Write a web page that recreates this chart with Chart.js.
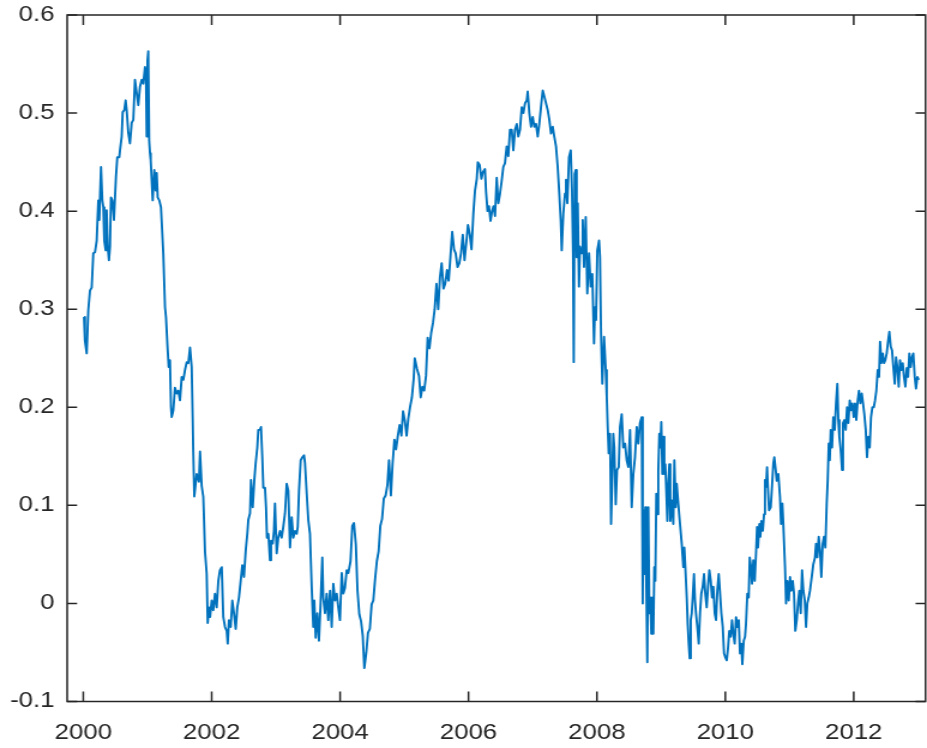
<!DOCTYPE html>
<html>
<head>
<meta charset="utf-8">
<script src="https://cdn.jsdelivr.net/npm/chart.js@4.4.1/dist/chart.umd.min.js"></script>
<style>
  html, body { margin: 0; padding: 0; background: #fff; overflow: hidden; }
  /* the figure is drawn narrow and stretched sideways to its final width */
  #wrap { width: 773px; height: 748px; transform: scaleX(1.19922); transform-origin: 0 0; }
</style>
</head>
<body>
<div id="wrap"><canvas id="c" width="773" height="748"></canvas></div>
<script>
// Observation dates (decimal years)
const dates = [
  2000.011,2000.026,2000.053,2000.078,2000.104,2000.131,2000.156,2000.182,2000.209,2000.234,2000.249,2000.276,2000.296,2000.312,2000.327,2000.349,2000.364,2000.380,2000.400,2000.416,2000.431,2000.452,2000.478,2000.509,2000.530,2000.561,2000.572,2000.598,2000.614,2000.639,2000.660,2000.676,2000.701,2000.727,2000.754,2000.779,2000.805,2000.832,2000.857,2000.883,2000.910,2000.935,2000.961,2000.977,2000.988,
  2001.000,2001.012,2001.026,2001.039,2001.050,2001.065,2001.081,2001.106,2001.128,2001.143,2001.159,2001.184,2001.210,2001.246,2001.273,2001.288,2001.315,2001.330,2001.350,2001.366,2001.377,2001.402,2001.428,2001.455,2001.480,2001.506,2001.533,2001.558,2001.584,2001.611,2001.636,2001.662,2001.688,2001.704,2001.713,2001.729,2001.766,2001.802,2001.818,2001.844,2001.869,2001.896,2001.922,2001.938,2001.958,2001.974,
  2002.000,2002.025,2002.051,2002.078,2002.103,2002.129,2002.156,2002.181,2002.207,2002.234,2002.249,2002.269,2002.296,2002.321,2002.347,2002.374,2002.399,2002.425,2002.452,2002.477,2002.503,2002.530,2002.555,2002.570,2002.597,2002.612,2002.639,2002.664,2002.685,2002.710,2002.726,2002.752,2002.768,2002.788,2002.804,2002.830,2002.846,2002.861,2002.882,2002.908,2002.924,2002.950,2002.970,2002.986,
  2003.012,2003.037,2003.064,2003.090,2003.115,2003.142,2003.168,2003.193,2003.220,2003.246,2003.271,2003.298,2003.324,2003.340,2003.360,2003.386,2003.411,2003.438,2003.453,2003.480,2003.505,2003.531,2003.558,2003.583,2003.598,2003.620,2003.645,2003.671,2003.698,2003.723,2003.738,2003.765,2003.791,2003.816,2003.843,2003.869,2003.894,2003.921,2003.947,2003.972,2003.998,
  2004.025,2004.050,2004.076,2004.103,2004.128,2004.162,2004.190,2004.216,2004.245,2004.271,2004.299,2004.326,2004.353,2004.377,2004.408,2004.434,2004.463,2004.491,2004.517,2004.544,2004.572,2004.600,2004.626,2004.653,2004.681,2004.709,2004.737,2004.762,2004.791,2004.818,2004.846,2004.871,2004.900,2004.927,2004.955,2004.980,
  2005.009,2005.036,2005.063,2005.089,2005.118,2005.146,2005.162,2005.198,2005.229,2005.255,2005.282,2005.310,2005.338,2005.364,2005.391,2005.419,2005.447,2005.473,2005.501,2005.528,2005.556,2005.582,2005.610,2005.637,2005.665,2005.691,2005.719,2005.746,2005.774,2005.800,2005.829,2005.857,2005.883,2005.911,2005.938,2005.966,2005.992,
  2006.020,2006.047,2006.075,2006.101,2006.129,2006.145,2006.173,2006.201,2006.226,2006.256,2006.273,2006.296,2006.319,2006.343,2006.366,2006.389,2006.413,2006.439,2006.464,2006.491,2006.517,2006.542,2006.568,2006.595,2006.620,2006.646,2006.673,2006.698,2006.724,2006.751,2006.776,2006.802,2006.829,2006.854,2006.880,2006.907,2006.922,2006.947,2006.974,
  2007.000,2007.025,2007.051,2007.078,2007.103,2007.129,2007.156,2007.181,2007.207,2007.234,2007.259,2007.285,2007.312,2007.336,2007.363,2007.389,2007.414,2007.436,2007.452,2007.477,2007.503,2007.519,2007.539,2007.565,2007.592,2007.612,2007.628,2007.639,2007.654,2007.670,2007.685,2007.701,2007.721,2007.737,2007.763,2007.779,2007.799,2007.826,2007.850,2007.877,2007.903,2007.928,2007.955,2007.970,2007.986,
  2008.006,2008.033,2008.048,2008.064,2008.084,2008.111,2008.137,2008.153,2008.168,2008.184,2008.204,2008.220,2008.240,2008.255,2008.271,2008.293,2008.313,2008.340,2008.360,2008.386,2008.411,2008.438,2008.464,2008.489,2008.516,2008.542,2008.567,2008.593,2008.620,2008.645,2008.671,2008.698,2008.713,2008.723,2008.738,2008.754,2008.769,2008.785,2008.801,2008.816,2008.832,2008.847,2008.863,2008.879,2008.894,2008.910,2008.925,2008.941,2008.956,2008.972,2008.988,
  2009.003,2009.019,2009.034,2009.050,2009.065,2009.081,2009.097,2009.112,2009.128,2009.143,2009.165,2009.190,2009.206,2009.227,2009.243,2009.268,2009.294,2009.321,2009.346,2009.361,2009.377,2009.399,2009.414,2009.430,2009.445,2009.461,2009.477,2009.492,2009.512,2009.528,2009.543,2009.564,2009.586,2009.606,2009.626,2009.648,2009.668,2009.688,2009.710,2009.730,2009.751,2009.773,2009.793,2009.813,2009.835,2009.855,2009.875,2009.897,2009.918,2009.938,2009.960,2009.980,
  2010.000,2010.022,2010.042,2010.062,2010.084,2010.104,2010.125,2010.146,2010.167,2010.187,2010.209,2010.229,2010.249,2010.265,2010.287,2010.307,2010.322,2010.343,2010.364,2010.380,2010.400,2010.416,2010.436,2010.458,2010.478,2010.494,2010.509,2010.530,2010.545,2010.561,2010.583,2010.603,2010.618,2010.634,2010.650,2010.665,2010.681,2010.707,2010.727,2010.748,2010.763,2010.785,2010.801,2010.826,2010.852,2010.868,2010.888,2010.903,2010.930,2010.946,2010.966,2010.988,
  2011.008,2011.028,2011.050,2011.070,2011.090,2011.112,2011.132,2011.153,2011.174,2011.195,2011.215,2011.237,2011.257,2011.277,2011.299,2011.319,2011.346,2011.371,2011.397,2011.413,2011.433,2011.455,2011.475,2011.495,2011.517,2011.537,2011.558,2011.579,2011.595,2011.611,2011.626,2011.642,2011.662,2011.682,2011.704,2011.724,2011.745,2011.760,2011.776,2011.798,2011.818,2011.833,2011.854,2011.875,2011.896,2011.916,2011.938,2011.958,2011.978,
  2012.000,2012.020,2012.040,2012.062,2012.082,2012.103,2012.125,2012.145,2012.165,2012.187,2012.207,2012.227,2012.249,2012.269,2012.290,2012.312,2012.332,2012.352,2012.374,2012.394,2012.410,2012.430,2012.452,2012.472,2012.492,2012.514,2012.534,2012.555,2012.576,2012.597,2012.617,2012.639,2012.659,2012.679,2012.701,2012.721,2012.741,2012.763,2012.783,2012.804,2012.826,2012.846,2012.866,2012.888,2012.908,2012.928,2012.950,2012.970,2012.991,2013.012
];

// Series value on each date
const values = [
  0.292,0.268,0.255,0.299,0.319,0.322,0.357,0.358,0.370,0.411,0.391,0.445,0.411,0.404,0.370,0.360,0.401,0.364,0.350,0.364,0.414,0.411,0.391,0.435,0.455,0.455,0.462,0.476,0.501,0.503,0.513,0.503,0.480,0.469,0.490,0.493,0.534,0.520,0.508,0.527,0.534,0.530,0.547,0.537,0.476,
  0.554,0.563,0.472,0.459,0.452,0.432,0.411,0.442,0.421,0.439,0.414,0.411,0.404,0.357,0.302,0.292,0.258,0.241,0.248,0.200,0.190,0.197,0.220,0.214,0.217,0.207,0.231,0.228,0.238,0.246,0.245,0.261,0.241,0.189,0.155,0.109,0.132,0.124,0.155,0.120,0.109,0.053,0.030,-0.020,-0.004,-0.014,
  0.003,-0.007,0.010,-0.004,0.023,0.034,0.037,-0.014,-0.024,-0.028,-0.041,-0.017,-0.024,0.003,-0.010,-0.026,-0.004,0.006,0.023,0.039,0.027,0.054,0.071,0.085,0.092,0.126,0.098,0.126,0.143,0.159,0.177,0.177,0.180,0.149,0.118,0.118,0.098,0.067,0.071,0.044,0.064,0.061,0.074,0.102,
  0.051,0.067,0.074,0.067,0.078,0.092,0.122,0.115,0.057,0.088,0.067,0.074,0.071,0.078,0.115,0.146,0.149,0.151,0.143,0.112,0.085,0.071,0.016,-0.024,0.003,-0.035,-0.010,-0.038,0.003,0.047,0.006,-0.010,0.010,-0.017,0.013,-0.024,0.020,0.003,0.010,-0.004,-0.017,
  0.031,0.010,0.016,0.034,0.031,0.043,0.079,0.082,0.060,0.013,-0.011,-0.018,-0.033,-0.066,-0.050,-0.030,-0.026,-0.001,0.003,0.024,0.043,0.053,0.079,0.086,0.107,0.110,0.121,0.146,0.110,0.143,0.167,0.157,0.171,0.182,0.171,0.196,
  0.186,0.171,0.189,0.200,0.210,0.229,0.250,0.239,0.232,0.210,0.221,0.217,0.232,0.271,0.260,0.276,0.286,0.300,0.326,0.300,0.333,0.347,0.321,0.326,0.340,0.329,0.354,0.379,0.361,0.357,0.343,0.347,0.357,0.376,0.350,0.368,0.386,
  0.376,0.361,0.397,0.421,0.433,0.450,0.447,0.433,0.440,0.443,0.420,0.400,0.405,0.390,0.400,0.405,0.395,0.434,0.408,0.418,0.431,0.445,0.449,0.466,0.456,0.483,0.483,0.462,0.483,0.489,0.476,0.483,0.506,0.500,0.510,0.513,0.522,0.500,0.486,
  0.496,0.486,0.489,0.476,0.489,0.506,0.523,0.517,0.510,0.503,0.493,0.479,0.486,0.476,0.466,0.445,0.418,0.391,0.360,0.398,0.418,0.432,0.408,0.455,0.462,0.421,0.357,0.246,0.438,0.442,0.353,0.408,0.323,0.364,0.357,0.391,0.343,0.394,0.316,0.357,0.323,0.336,0.265,0.302,0.289,
  0.360,0.370,0.353,0.275,0.224,0.272,0.238,0.211,0.180,0.153,0.173,0.081,0.132,0.173,0.159,0.101,0.136,0.139,0.180,0.193,0.159,0.163,0.146,0.139,0.177,0.098,0.132,0.149,0.180,0.163,0.184,0.190,0.000,0.095,0.030,0.098,0.023,-0.060,0.098,-0.010,0.006,-0.031,0.006,-0.031,0.037,0.023,0.112,0.091,0.135,0.173,0.159,
  0.185,0.132,0.170,0.132,0.142,0.115,0.084,0.122,0.142,0.084,0.105,0.081,0.146,0.098,0.122,0.101,0.081,0.061,0.037,0.057,0.037,0.006,-0.021,-0.041,-0.056,-0.017,-0.010,0.006,0.030,0.003,-0.010,-0.024,-0.041,-0.010,0.010,0.017,0.030,0.010,-0.004,0.017,0.034,0.023,0.006,0.017,-0.010,-0.017,0.013,0.030,0.010,-0.010,-0.024,-0.051,
  -0.055,-0.058,-0.045,-0.028,-0.034,-0.017,-0.031,-0.041,-0.014,-0.024,-0.017,-0.051,-0.041,-0.062,-0.038,-0.034,-0.021,0.010,0.006,0.047,0.037,0.020,0.044,0.023,0.051,0.078,0.057,0.081,0.068,0.084,0.074,0.091,0.126,0.119,0.139,0.115,0.095,0.098,0.119,0.143,0.149,0.136,0.125,0.132,0.108,0.081,0.102,0.081,0.037,0.000,0.023,0.003,
  0.027,0.013,0.023,0.010,-0.028,-0.017,0.000,0.013,-0.010,0.034,0.013,0.003,-0.024,0.000,0.006,0.013,0.027,0.040,0.047,0.061,0.047,0.068,0.054,0.027,0.061,0.068,0.057,0.102,0.126,0.163,0.146,0.177,0.159,0.190,0.177,0.204,0.224,0.187,0.170,0.156,0.136,0.184,0.187,0.177,0.200,0.184,0.207,0.197,0.204,
  0.190,0.204,0.187,0.207,0.217,0.204,0.214,0.204,0.193,0.177,0.149,0.170,0.159,0.190,0.200,0.200,0.207,0.217,0.238,0.231,0.267,0.245,0.255,0.245,0.248,0.255,0.267,0.277,0.262,0.258,0.241,0.224,0.251,0.241,0.221,0.248,0.238,0.245,0.231,0.221,0.240,0.231,0.255,0.241,0.251,0.255,0.231,0.219,0.231,0.228
];

// Axis ticks
const xTicks = [2000, 2002, 2004, 2006, 2008, 2010, 2012];
const yTicks = [-0.1, 0, 0.1, 0.2, 0.3, 0.4, 0.5, 0.6];
const yTickLabels = ['-0.1', '0', '0.1', '0.2', '0.3', '0.4', '0.5', '0.6'];

const axisColor = '#262626';
const lineColor = '#0072BD';
const tickFont = { family: '"Liberation Sans", Arial, Helvetica, sans-serif', size: 21.5 };

// Closed box with inward tick marks on all four sides
const boxAxes = {
  id: 'boxAxes',
  afterDraw(chart) {
    const { ctx, chartArea: a, scales: { x, y } } = chart;
    const tx = 8.3, ty = 10;
    ctx.save();
    ctx.strokeStyle = axisColor;
    ctx.lineWidth = 1.5;
    ctx.strokeRect(a.left, a.top, a.right - a.left, a.bottom - a.top);
    ctx.beginPath();
    xTicks.forEach(v => {
      const px = x.getPixelForValue(v);
      ctx.moveTo(px, a.bottom); ctx.lineTo(px, a.bottom - ty);
      ctx.moveTo(px, a.top); ctx.lineTo(px, a.top + ty);
    });
    yTicks.forEach(v => {
      const py = y.getPixelForValue(v);
      ctx.moveTo(a.left, py); ctx.lineTo(a.left + tx, py);
      ctx.moveTo(a.right, py); ctx.lineTo(a.right - tx, py);
    });
    ctx.stroke();
    ctx.restore();
  }
};

// Fixed axis sizes so the plot box sits at a set place
function fixY(s) { s.width = 56; s.paddingTop = 0; s.paddingBottom = 0; }
function fixX(s) { s.height = 46.5; s.paddingLeft = 0; s.paddingRight = 0; }

new Chart(document.getElementById('c'), {
  type: 'line',
  data: {
    datasets: [{
      data: dates.map((d, i) => ({ x: d, y: values[i] })),
      borderColor: lineColor,
      borderWidth: 1.9,
      borderJoinStyle: 'round',
      pointRadius: 0,
      tension: 0,
      fill: false
    }]
  },
  options: {
    responsive: false,
    animation: false,
    layout: { padding: { left: 0, right: 1.25, top: 15, bottom: 0 } },
    plugins: { legend: { display: false }, tooltip: { enabled: false } },
    scales: {
      x: {
        type: 'linear',
        min: 1999.749,
        max: 2013.118,
        grid: { display: false, drawTicks: false },
        border: { display: false },
        afterBuildTicks: s => { s.ticks = xTicks.map(v => ({ value: v })); },
        afterFit: fixX,
        ticks: {
          font: tickFont, color: axisColor, padding: 18.5,
          maxRotation: 0, autoSkip: false,
          callback: v => String(v)
        }
      },
      y: {
        type: 'linear',
        min: -0.1,
        max: 0.6,
        grid: { display: false, drawTicks: false },
        border: { display: false },
        afterBuildTicks: s => { s.ticks = yTicks.map(v => ({ value: v })); },
        afterFit: fixY,
        ticks: {
          font: tickFont, color: axisColor, padding: 10.5,
          autoSkip: false,
          callback: (v, i) => yTickLabels[i]
        }
      }
    }
  },
  plugins: [boxAxes]
});
</script>
</body>
</html>
